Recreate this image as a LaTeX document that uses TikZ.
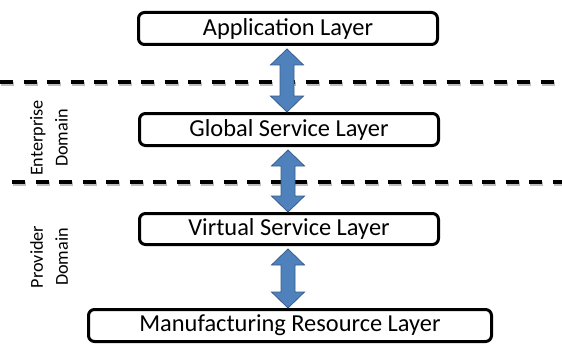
\documentclass[tikz,border=0pt]{standalone}
\usepackage{fontspec}
\setmainfont{Carlito}
\usetikzlibrary{calc}
\definecolor{arrfill}{HTML}{4F81BD}
\definecolor{arrline}{HTML}{385D8A}
\tikzset{
  layer/.style={draw=black, line width=3pt, rounded corners=6pt, fill=white,
    minimum height=32pt, inner sep=0pt, font=\fontsize{24.4}{28}\selectfont},
  domlabel/.style={rotate=90, align=center, font=\fontsize{18.2}{25}\selectfont},
  divider/.style={line width=3.5pt, dash pattern=on 13pt off 10.5pt, black},
  shadowline/.style={line width=3.5pt, dash pattern=on 13pt off 10.5pt, black!25},
  bluearrow/.style={fill=arrfill, draw=arrline, line width=0.8pt, line join=miter}
}
\newcommand\dblarr[2]{%
  \draw[bluearrow] let \p1=($(#1.south)+(-1pt,-3pt)$), \p2=($(#2.north)+(-1pt,0pt)$) in
    (\x1,\y1) -- (\x1+16.5pt,\y1-16pt) -- (\x1+7pt,\y1-16pt) -- (\x1+7pt,\y2+16pt)
    -- (\x1+16.5pt,\y2+16pt) -- (\x1,\y2) -- (\x1-16.5pt,\y2+16pt) -- (\x1-7pt,\y2+16pt)
    -- (\x1-7pt,\y1-16pt) -- (\x1-16.5pt,\y1-16pt) -- cycle;}
\begin{document}
\begin{tikzpicture}[x=1pt,y=-1pt]
\useasboundingbox[fill=white] (0,0) rectangle (562,345);
% dividers
\coordinate (d1a) at (0,82);
\coordinate (d1b) at (562,82);
\coordinate (d2a) at (12,182);
\coordinate (d2b) at (562,182);
\draw[shadowline] ($(d1a)+(1,2)$) -- ($(d1b)+(1,2)$);
\draw[shadowline] ($(d2a)+(1,2)$) -- ($(d2b)+(1,2)$);
\draw[divider] (d1a) -- (d1b);
\draw[divider] (d2a) -- (d2b);
% layers
\node[layer, minimum width=299pt] (app) at (288,28.5) {Application Layer};
\node[layer, minimum width=299pt] (glob) at (289,129.5) {Global Service Layer};
\node[layer, minimum width=299pt, minimum height=31pt] (virt) at (289,229) {Virtual Service Layer};
\node[layer, minimum width=403pt] (manu) at (290,325.5) {Manufacturing Resource Layer};
% arrows
\dblarr{app}{glob}
\dblarr{glob}{virt}
\dblarr{virt}{manu}
% domain labels
\node[domlabel] (ent) at (49,138) {Enterprise\\Domain};
\node[domlabel] (prov) at (49,257) {Provider\\Domain};
\end{tikzpicture}
\end{document}
